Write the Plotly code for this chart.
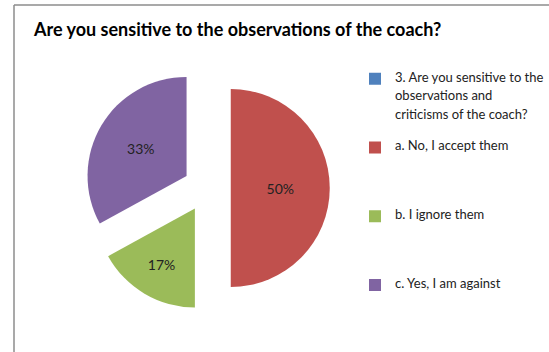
import plotly.graph_objects as go

W, H = 549, 352

title_text = "Are you sensitive to the observations of the coach?"
labels = [
    "3. Are you sensitive to the observations and criticisms of the coach?",
    "a. No, I accept them",
    "b. I ignore them",
    "c. Yes, I am against",
]
legend_lines = [
    ["3. Are you sensitive to the", "observations and", "criticisms of the coach?"],
    ["a. No, I accept them"],
    ["b. I ignore them"],
    ["c. Yes, I am against"],
]
values = [0, 50, 17, 33]
colors = ["#4F81BD", "#C0504D", "#9BBB59", "#8064A2"]

FONT = "Lato"
TXT = 13          # visible legend text size
LEG_FS = 7.23     # small legend font size: sets the fine line grid (1.3*fs px)
ENTRY_LINES = 7   # each entry spans this many grid lines


def legend_label(lines, last):
    # visible text lines sit on every other grid line
    parts = [f"<span style='font-size:{TXT}px'>{s}</span>" for s in lines]
    body = "<br><br>".join(parts)
    used = 2 * len(lines) - 1
    n_pad = 1 if last else max(0, ENTRY_LINES - used)
    body += "<br>" * n_pad + " "
    return body


disp = [legend_label(l, i == len(legend_lines) - 1) for i, l in enumerate(legend_lines)]

texttemplate = ["" if v == 0 else "%{percent:.0%}" for v in values]

# pie geometry (pixels)
cx, cy, r, pull = 207, 188, 99, 0.24
half = r * (1 + pull)

fig = go.Figure(
    go.Pie(
        labels=disp,
        values=values,
        sort=False,
        direction="clockwise",
        rotation=0,
        pull=[pull] * len(values),
        marker=dict(colors=colors, line=dict(width=0)),
        texttemplate=texttemplate,
        textposition="inside",
        insidetextorientation="horizontal",
        textfont=dict(family=FONT, size=14, color="#222222"),
        hovertext=labels,
        hoverinfo="text+percent",
        domain=dict(
            x=[(cx - half) / W, (cx + half) / W],
            y=[1 - (cy + half) / H, 1 - (cy - half) / H],
        ),
    )
)

fig.update_layout(
    width=W,
    height=H,
    margin=dict(l=0, r=0, t=0, b=0, autoexpand=False),
    paper_bgcolor="white",
    plot_bgcolor="white",
    font=dict(family=FONT, color="#222222"),
    title=dict(
        text=f"<b>{title_text}</b>",
        x=34 / W,
        xanchor="left",
        xref="container",
        y=1 - 30 / H,
        yanchor="middle",
        yref="container",
        font=dict(family=FONT, size=18, color="#000000"),
    ),
    legend=dict(
        x=355 / W,
        xanchor="left",
        y=1 - 67.5 / H,
        yanchor="top",
        valign="top",
        font=dict(family=FONT, size=LEG_FS, color="#222222"),
        bgcolor="rgba(0,0,0,0)",
        borderwidth=0,
    ),
    shapes=[
        dict(type="line", xref="paper", yref="paper", x0=14 / W, y0=1 - 5 / H, x1=1, y1=1 - 5 / H,
             line=dict(color="#8c8c8c", width=1.5)),
        dict(type="line", xref="paper", yref="paper", x0=14 / W, y0=1 - 5 / H, x1=14 / W, y1=0,
             line=dict(color="#8c8c8c", width=1.5)),
    ],
)

# remove the browser's default 8px page margin so the figure sits at the window origin
fig.write_html(
    "out.html",
    config={"displayModeBar": False},
    post_script="document.body.style.margin='0px';document.body.style.overflow='hidden';",
)
